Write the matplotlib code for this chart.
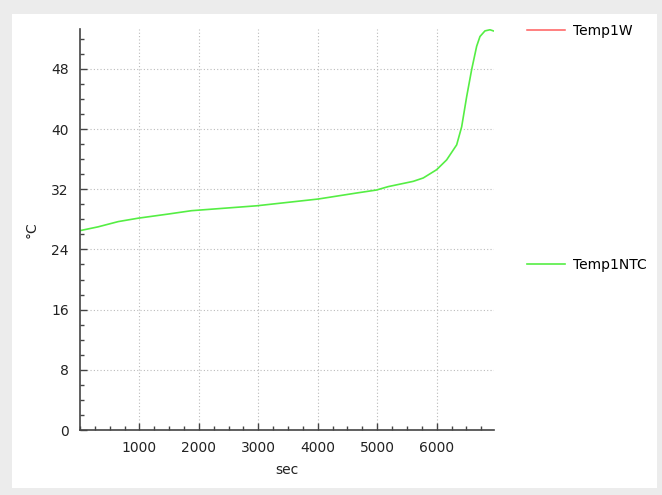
import numpy as np
import matplotlib
matplotlib.use("Agg")
import matplotlib.pyplot as plt
from matplotlib.patches import Rectangle
from matplotlib.ticker import MultipleLocator

# Temperature log (seconds vs degrees C)
sec = [0, 303, 643, 976, 1481, 1875, 2970, 4007, 4653, 4990, 5185, 5606,
       5775, 6000, 6168, 6337, 6421, 6505, 6589, 6673, 6729, 6813, 6897, 6953]
temp1ntc = [26.5, 27.0, 27.7, 28.15, 28.7, 29.15, 29.8, 30.7, 31.5, 31.9,
            32.35, 33.05, 33.5, 34.6, 35.9, 37.9, 40.3, 44.3, 47.9, 51.0,
            52.3, 53.05, 53.2, 53.05]
temp1w_sec = []
temp1w = []

fig = plt.figure(figsize=(6.62, 4.95), dpi=100)
fig.patch.set_facecolor("#ececec")
fig.add_artist(Rectangle((12 / 662, 1 - 488 / 495), (657 - 12) / 662, (488 - 14) / 495,
                         transform=fig.transFigure, facecolor="white", edgecolor="none", zorder=0))

ax = fig.add_axes([80 / 662, 1 - 430 / 495, (494 - 80) / 662, (430 - 29) / 495])
ax.set_facecolor("none")

l1, = ax.plot(temp1w_sec, temp1w, color="#ff5c5c", lw=1.1, label="Temp1W")
l2, = ax.plot(sec, temp1ntc, color="#55ee44", lw=1.2, label="Temp1NTC")

ax.set_xlim(0, 6965)
ax.set_ylim(0, 53.3)
ax.set_xticks([1000, 2000, 3000, 4000, 5000, 6000])
ax.set_yticks([0, 8, 16, 24, 32, 40, 48])
ax.xaxis.set_minor_locator(MultipleLocator(250))
ax.yaxis.set_minor_locator(MultipleLocator(2))

for s in ["top", "right"]:
    ax.spines[s].set_visible(False)
for s in ["left", "bottom"]:
    ax.spines[s].set_color("#444444")
    ax.spines[s].set_linewidth(1.2)

ax.tick_params(which="major", direction="in", length=5, width=1, color="#444444",
               labelsize=10, labelcolor="#222222", pad=8)
ax.tick_params(which="minor", direction="in", length=3, width=1, color="#444444")
ax.grid(True, which="major", color="#bbbbbb", linestyle=(0, (1, 2)), linewidth=0.8)

ax.set_xlabel("sec", fontsize=10, color="#222222", labelpad=6)
ax.set_ylabel("°C", fontsize=10, color="#222222", labelpad=9)

leg_kw = dict(frameon=False, borderpad=0, borderaxespad=0, handlelength=2.7,
              handletextpad=0.6, fontsize=10, loc="center left")
leg1 = fig.legend(handles=[l1], bbox_to_anchor=(527 / 662, 1 - 31 / 495), **leg_kw)
fig.legend(handles=[l2], bbox_to_anchor=(527 / 662, 1 - 265 / 495), **leg_kw)

fig.savefig("out.png", dpi=100)
